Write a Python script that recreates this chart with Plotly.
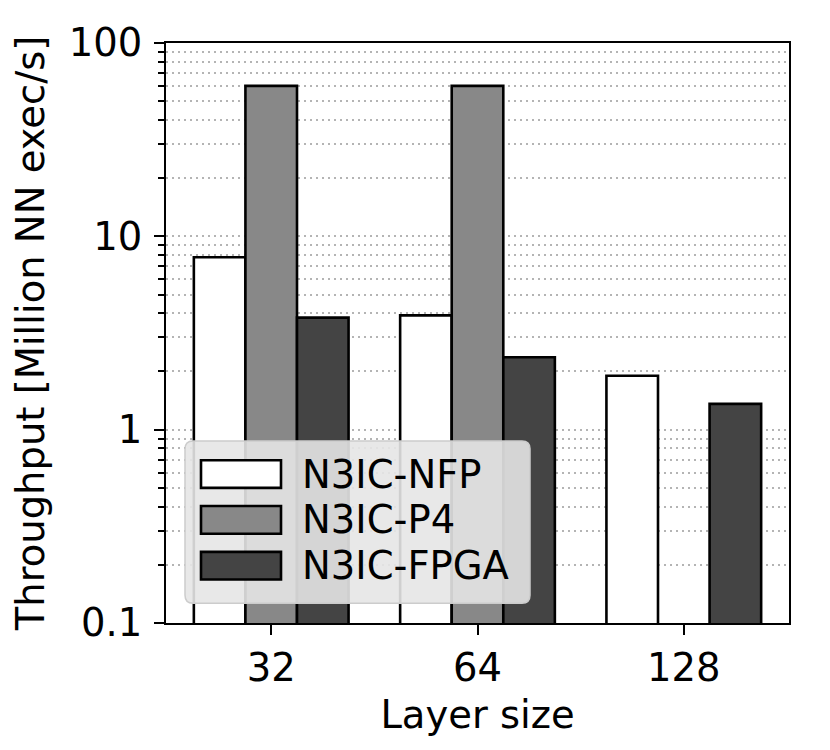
import plotly.graph_objects as go

# layer sizes on the x axis
layer_sizes = ["32", "64", "128"]

# throughput in million NN executions per second
nfp_tput = [7.8, 3.9, 1.9]
p4_tput = [60, 60, None]
fpga_tput = [3.8, 2.37, 1.36]

series_names = ["N3IC-NFP", "N3IC-P4", "N3IC-FPGA"]
series_colors = ["#ffffff", "#888888", "#444444"]

y_major = [0.1, 1, 10, 100]
y_major_text = ["0.1", "1", "10", "100"]
y_minor = [m * d for d in (0.1, 1, 10) for m in range(2, 10)]

FONT = "DejaVu Sans"
FS = 38.5
OFF = 8  # the page body has an 8px margin, so the figure is shifted by that
W, H = 830 - 2 * OFF, 750 - 2 * OFF
ML, MT = 166 - OFF, 37 - OFF
MR, MB = W - (789 - OFF), H - (623 - OFF)
GRID = "#b4b4b4"

fig = go.Figure()
for name, vals, col in zip(series_names, [nfp_tput, p4_tput, fpga_tput], series_colors):
    fig.add_trace(go.Bar(
        x=layer_sizes, y=vals, name=name,
        marker=dict(color=col, line=dict(color="black", width=2.6)),
        showlegend=False,
    ))

fig.update_layout(
    width=W, height=H,
    margin=dict(l=ML, r=MR, t=MT, b=MB),
    paper_bgcolor="white", plot_bgcolor="white",
    barmode="group", bargap=0.25, bargroupgap=0,
    font=dict(family=FONT, size=FS, color="black"),
)

fig.update_xaxes(
    type="category", range=[-0.51, 2.51],
    showline=True, mirror=True, linecolor="black", linewidth=2,
    ticks="outside", ticklen=10, tickwidth=2, tickcolor="black",
    showgrid=False,
    title=dict(text="Layer size", standoff=12, font=dict(size=FS)),
)
fig.update_yaxes(
    type="log", range=[-1, 2],
    showline=True, mirror=True, linecolor="black", linewidth=2,
    tickvals=y_major, ticktext=y_major_text, ticklabelstandoff=4,
    ticks="outside", ticklen=10, tickwidth=2, tickcolor="black",
    showgrid=True, gridcolor=GRID, gridwidth=1.5, griddash="2px,4px",
    minor=dict(tickvals=y_minor, ticks="outside", ticklen=6, tickwidth=1.5,
               tickcolor="black", showgrid=True, gridcolor=GRID,
               gridwidth=1.5, griddash="2px,4px"),
    title=dict(text="Throughput [Million NN exec/s]", standoff=14, font=dict(size=FS)),
)

# legend drawn by hand so the swatches get matplotlib-like proportions
pw, ph = W - ML - MR, H - MT - MB


def px_x(v):
    return (v - OFF - ML) / pw


def px_y(v):
    return (H - MB - (v - OFF)) / ph


# rounded legend frame
x0, x1, y0, y1 = px_x(185), px_x(530), px_y(603), px_y(439)
rx, ry = 8 / pw, 8 / ph
frame = (f"M{x0 + rx},{y0} L{x1 - rx},{y0} Q{x1},{y0} {x1},{y0 + ry} "
         f"L{x1},{y1 - ry} Q{x1},{y1} {x1 - rx},{y1} L{x0 + rx},{y1} "
         f"Q{x0},{y1} {x0},{y1 - ry} L{x0},{y0 + ry} Q{x0},{y0} {x0 + rx},{y0} Z")
fig.add_shape(type="path", path=frame, xref="paper", yref="paper", layer="above",
              fillcolor="rgba(230,230,230,0.9)",
              line=dict(color="#cccccc", width=1.5))
for i, (name, col) in enumerate(zip(series_names, series_colors)):
    cy = 472.5 + i * 46.3
    fig.add_shape(type="rect", xref="paper", yref="paper", layer="above",
                  x0=px_x(201), x1=px_x(281), y0=px_y(cy + 14), y1=px_y(cy - 14),
                  fillcolor=col, line=dict(color="black", width=2.6))
    fig.add_annotation(x=px_x(300), y=px_y(cy), xref="paper", yref="paper",
                       text=name, showarrow=False, xanchor="left", yanchor="middle",
                       font=dict(family=FONT, size=FS, color="black"))

fig.write_html("out.html")
